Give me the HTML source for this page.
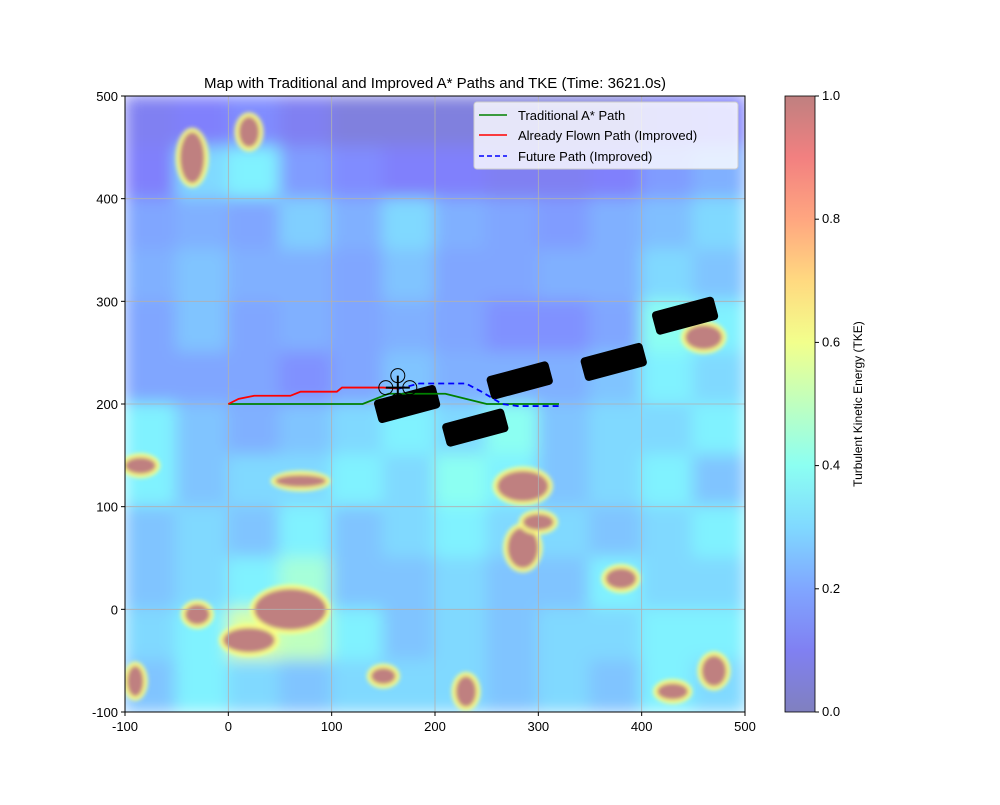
<!DOCTYPE html>
<html><head><meta charset="utf-8"><style>
body{margin:0;background:#fff;font-family:"Liberation Sans",sans-serif}
svg text{font-family:"Liberation Sans",sans-serif;fill:#000}
</style></head><body>
<svg id="chart" width="1000" height="800" xmlns="http://www.w3.org/2000/svg">
<defs>
<linearGradient id="cbgrad" x1="0" y1="1" x2="0" y2="0"></linearGradient>
<clipPath id="plotclip"><rect x="125" y="96" width="620" height="616"/></clipPath>
<filter id="soft" x="-5%" y="-5%" width="110%" height="110%"><feGaussianBlur stdDeviation="8"/></filter>
<filter id="soft2" x="-20%" y="-20%" width="140%" height="140%"><feGaussianBlur stdDeviation="2"/></filter>
</defs>
<text x="435" y="88" font-size="15" text-anchor="middle">Map with Traditional and Improved A* Paths and TKE (Time: 3621.0s)</text>
<g id="heat" clip-path="url(#plotclip)"></g>
<g id="grid"></g>
<g id="obst" clip-path="url(#plotclip)"></g>
<g id="paths" clip-path="url(#plotclip)"></g>
<g id="drone"></g>
<rect x="125" y="96" width="620" height="616" fill="none" stroke="#000" stroke-width="1"/>
<g id="axes"></g>
<g>
<rect x="474" y="102" width="264" height="67" rx="3" fill="#fff" fill-opacity="0.8" stroke="#ccc"/>
<line x1="479" y1="115" x2="507" y2="115" stroke="green" stroke-width="1.5"/>
<text x="518" y="120" font-size="13">Traditional A* Path</text>
<line x1="479" y1="135" x2="507" y2="135" stroke="red" stroke-width="1.5"/>
<text x="518" y="140" font-size="13">Already Flown Path (Improved)</text>
<line x1="479" y1="156" x2="507" y2="156" stroke="blue" stroke-width="1.5" stroke-dasharray="5,3"/>
<text x="518" y="161" font-size="13">Future Path (Improved)</text>
</g>
<g id="cbar"></g>
<text transform="translate(862,404) rotate(-90)" font-size="12" text-anchor="middle">Turbulent Kinetic Energy (TKE)</text>
</svg>
<script>
const xTicks=[-100,0,100,200,300,400,500];
const yTicks=[-100,0,100,200,300,400,500];
const cbTicks=[0.0,0.2,0.4,0.6,0.8,1.0];
// heat grid rows from y=500 (top) downward, 50 units per cell; columns from x=-100
const heatRows=[
[0.1,0.12,0.15,0.1,0.06,0.06,0.06,0.06,0.06,0.06,0.1,0.12],
[0.12,0.3,0.35,0.18,0.15,0.12,0.12,0.1,0.1,0.12,0.18,0.22],
[0.2,0.22,0.2,0.28,0.22,0.3,0.22,0.2,0.18,0.22,0.25,0.3],
[0.22,0.26,0.22,0.22,0.2,0.26,0.2,0.2,0.22,0.22,0.3,0.26],
[0.2,0.26,0.2,0.22,0.2,0.22,0.2,0.16,0.16,0.2,0.4,0.35],
[0.2,0.2,0.2,0.16,0.2,0.26,0.22,0.22,0.22,0.26,0.35,0.3],
[0.35,0.26,0.22,0.26,0.3,0.35,0.3,0.4,0.26,0.3,0.3,0.35],
[0.35,0.26,0.3,0.3,0.35,0.3,0.4,0.35,0.26,0.3,0.35,0.26],
[0.26,0.3,0.26,0.35,0.26,0.3,0.35,0.3,0.3,0.26,0.3,0.35],
[0.26,0.3,0.35,0.45,0.26,0.26,0.3,0.26,0.26,0.35,0.3,0.3],
[0.3,0.35,0.55,0.5,0.35,0.26,0.3,0.26,0.3,0.3,0.35,0.35],
[0.26,0.35,0.3,0.26,0.3,0.3,0.3,0.26,0.3,0.26,0.35,0.3]];
// high-TKE blobs: centre x, centre y, radius x, radius y (data units)
const blobX=[-35,20,60,20,-85,285,285,460,300,-90,430,470,230,70,-30,150,380];
const blobY=[440,465,0,-30,140,120,60,265,85,-70,-80,-60,-80,125,-5,-65,30];
const blobRX=[12,10,35,25,15,25,15,18,15,8,15,12,10,25,12,12,15];
const blobRY=[25,15,20,12,8,15,20,12,8,15,8,15,15,6,10,8,10];
const obstX=[173,239,282,373,442];
const obstY=[200,177,223,241,286];
const tradX=[0,130,155,210,250,262,320];
const tradY=[200,200,210,210,200,200,200];
const flownX=[0,10,25,60,70,105,110,150,165];
const flownY=[200,205,208,208,212,212,216,216,215];
const futureX=[165,185,230,245,265,280,320];
const futureY=[215,220,220,212,200,198,198];
const droneX=164, droneY=213;

const NS='http://www.w3.org/2000/svg';
const X0=125,X1=745,Y0=96,Y1=712;
const sx=v=>X0+(v+100)/600*(X1-X0);
const sy=v=>Y1-(v+100)/600*(Y1-Y0);
const kx=(X1-X0)/600, ky=(Y1-Y0)/600;
function mk(tag,attrs,parent){const e=document.createElementNS(NS,tag);for(const k in attrs)e.setAttribute(k,attrs[k]);parent.appendChild(e);return e;}
function jet(v){const c=t=>Math.max(0,Math.min(1,1.5-Math.abs(4*v-t)));
 const r=c(3),g=c(2),b=c(1);
 const bl=x=>Math.round((x*0.5+0.5)*255);return `rgb(${bl(r)},${bl(g)},${bl(b)})`;}
const heat=document.getElementById('heat');
const hg=mk('g',{filter:'url(#soft)'},heat);
heatRows.forEach((row,i)=>row.forEach((v,j)=>{
 const x=sx(-100+j*50),y=sy(500-i*50);
 const r=mk('rect',{x:x-1,y:y-1,width:sx(-50+j*50)-x+2,height:sy(450-i*50)-y+2,fill:jet(v)},hg);
 
 
}));
const bg=mk('g',{filter:'url(#soft2)'},heat);
blobX.forEach((bx,i)=>{
 mk('ellipse',{cx:sx(bx),cy:sy(blobY[i]),rx:blobRX[i]*kx+4,ry:blobRY[i]*ky+4,fill:jet(0.62)},bg);
 const e=mk('ellipse',{cx:sx(bx),cy:sy(blobY[i]),rx:blobRX[i]*kx,ry:blobRY[i]*ky,fill:jet(1)},bg);
 
 
});
const grid=document.getElementById('grid'),axes=document.getElementById('axes');
xTicks.forEach(t=>{const x=sx(t);
 const l=mk('line',{x1:x,x2:x,y1:Y0,y2:Y1,stroke:'#b0b0b0','stroke-width':0.8},grid);
 
 mk('line',{x1:x,x2:x,y1:Y1,y2:Y1+4,stroke:'#000'},axes);
 const tx=mk('text',{x:x,y:Y1+19,'font-size':13,'text-anchor':'middle'},axes);tx.textContent=t;
 });
yTicks.forEach(t=>{const y=sy(t);
 const l=mk('line',{x1:X0,x2:X1,y1:y,y2:y,stroke:'#b0b0b0','stroke-width':0.8},grid);
 
 mk('line',{x1:X0-4,x2:X0,y1:y,y2:y,stroke:'#000'},axes);
 const tx=mk('text',{x:X0-7,y:y+5,'font-size':13,'text-anchor':'end'},axes);tx.textContent=t;
 });
const obst=document.getElementById('obst');
obstX.forEach((ox,i)=>{const cx=sx(ox),cy=sy(obstY[i]);
 const r=mk('rect',{x:cx-32,y:cy-12,width:64,height:24,rx:4,fill:'#000',transform:`rotate(-15 ${cx} ${cy})`},obst);
 });
const paths=document.getElementById('paths');
function line(xs,ys,color,dash,name){const p=mk('polyline',{points:xs.map((x,i)=>sx(x)+','+sy(ys[i])).join(' '),fill:'none',stroke:color,'stroke-width':1.8},paths);
 if(dash)p.setAttribute('stroke-dasharray',dash);
 }
line(tradX,tradY,'green',null,'traditional-path');
line(flownX,flownY,'red',null,'flown-path');
line(futureX,futureY,'blue','6,4','future-path');
const dr=document.getElementById('drone');const dx=sx(droneX),dy=sy(droneY);
[[-12,-3],[12,-3],[0,-15],[0,10]].forEach(o=>{mk('circle',{cx:dx+o[0],cy:dy+o[1],r:7,fill:'none',stroke:'#000','stroke-width':1},dr);});
mk('line',{x1:dx-12,y1:dy-3,x2:dx+12,y2:dy-3,stroke:'#000','stroke-width':2},dr);
mk('line',{x1:dx,y1:dy-15,x2:dx,y2:dy+10,stroke:'#000','stroke-width':2},dr);
const cb=document.getElementById('cbar');
const gr=document.getElementById('cbgrad');
for(let i=0;i<=10;i++){mk('stop',{offset:i/10,'stop-color':jet(i/10)},gr);}
mk('rect',{x:785,y:96,width:30,height:616,fill:'url(#cbgrad)',stroke:'#000','stroke-width':0.8},cb);
cbTicks.forEach(t=>{const y=712-t*616;mk('line',{x1:815,x2:819,y1:y,y2:y,stroke:'#000'},cb);
 const tx=mk('text',{x:822,y:y+4,'font-size':13},cb);tx.textContent=t.toFixed(1);
 });
</script>
</body></html>
